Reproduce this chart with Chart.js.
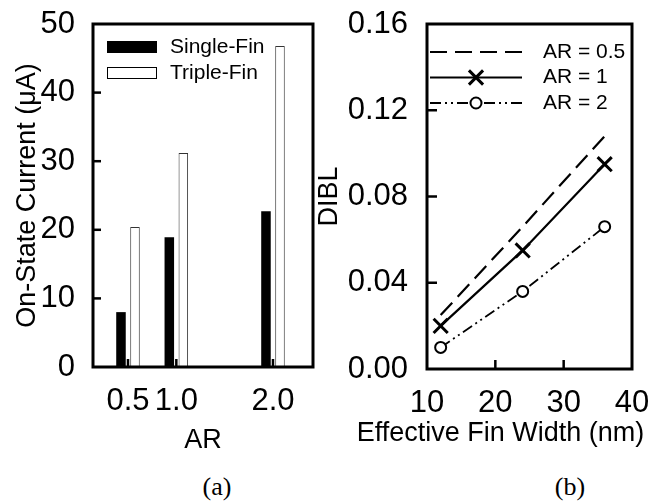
<!DOCTYPE html>
<html>
<head>
<meta charset="utf-8">
<script src="https://cdn.jsdelivr.net/npm/chart.js@4.4.0/dist/chart.umd.min.js"></script>
<style>
  body { margin: 0; background: #fff; width: 652px; height: 501px; position: relative; overflow: hidden; }
  canvas { position: absolute; top: 0; }
  .cap { position: absolute; font: 26px 'Liberation Serif', 'Times New Roman', serif; transform: translate(-50%, -50%); }
</style>
</head>
<body>
<canvas id="barChart" width="326" height="460" style="left:0"></canvas>
<canvas id="lineChart" width="342" height="460" style="left:310px"></canvas>
<div class="cap" style="left:217px;top:487px">(a)</div>
<div class="cap" style="left:570px;top:487px">(b)</div>
<script>
// (a) on-state current vs aspect ratio
const arValues = [0.5, 1.0, 2.0];
const singleFin = [8.0, 18.9, 22.7];
const tripleFin = [20.4, 31.2, 46.8];

// (b) DIBL vs effective fin width
const finWidth = [12, 24, 36];
const diblAR05 = [0.025, 0.066, 0.108];
const diblAR1 = [0.020, 0.055, 0.095];
const diblAR2 = [0.010, 0.036, 0.066];

const FONT = "'Liberation Sans', Arial, sans-serif";
Chart.defaults.font.family = FONT;
Chart.defaults.color = '#000';

function zeroPad(s) {
    s.paddingLeft = 0; s.paddingRight = 0; s.paddingTop = 0; s.paddingBottom = 0;
}

// box around the plot plus short inward tick marks
const framePlugin = {
    id: 'frame',
    afterDraw(chart, args, opts) {
        const { ctx, chartArea: a, scales } = chart;
        ctx.save();
        ctx.strokeStyle = '#000';
        ctx.lineWidth = 2.5;
        scales.x.ticks.forEach(t => {
            const px = scales.x.getPixelForValue(t.value);
            if (px <= a.left + 2 || px >= a.right - 2) return;
            ctx.beginPath(); ctx.moveTo(px, a.bottom); ctx.lineTo(px, a.bottom - opts.xLen); ctx.stroke();
        });
        scales.y.ticks.forEach(t => {
            const py = scales.y.getPixelForValue(t.value);
            if (py <= a.top + 2 || py >= a.bottom - 2) return;
            ctx.beginPath(); ctx.moveTo(a.left, py); ctx.lineTo(a.left + opts.yLen, py); ctx.stroke();
        });
        ctx.lineWidth = 3;
        ctx.strokeRect(a.left, a.top, a.right - a.left, a.bottom - a.top);
        // x title drawn here so it is not squeezed to the axis width
        if (opts.xTitle) {
            ctx.font = opts.xTitleSize + 'px ' + FONT;
            ctx.fillStyle = '#000';
            ctx.textAlign = 'center';
            ctx.textBaseline = 'middle';
            ctx.fillText(opts.xTitle, (a.left + a.right) / 2 + opts.xTitleShift, scales.x.bottom - opts.xTitleSize * 0.6);
        }
        ctx.restore();
    }
};

const barLegend = {
    id: 'barLegend',
    afterDraw(chart) {
        const { ctx, chartArea: a } = chart;
        ctx.save();
        ctx.font = '21px ' + FONT;
        ctx.textBaseline = 'middle';
        chart.data.datasets.forEach((ds, i) => {
            const x = a.left + 14;
            const y = a.top + 23 + i * 26;
            ctx.fillStyle = ds.backgroundColor;
            ctx.fillRect(x, y - 6, 50, 12);
            if (ds.borderWidth) {
                ctx.lineWidth = 1;
                ctx.strokeStyle = '#000';
                ctx.strokeRect(x + 0.5, y - 5.5, 49, 11);
            }
            ctx.fillStyle = '#000';
            ctx.fillText(ds.label, x + 63, y);
        });
        ctx.restore();
    }
};

const lineLegend = {
    id: 'lineLegend',
    afterDraw(chart) {
        const { ctx, chartArea: a } = chart;
        ctx.save();
        ctx.font = '21px ' + FONT;
        ctx.textBaseline = 'middle';
        chart.data.datasets.forEach((ds, i) => {
            const x0 = a.left + 3, x1 = x0 + 92, xm = (x0 + x1) / 2;
            const y = a.top + 28 + i * 25.5;
            ctx.strokeStyle = '#000';
            ctx.lineWidth = ds.borderWidth;
            ctx.setLineDash(ds.borderDash || []);
            ctx.beginPath(); ctx.moveTo(x0, y); ctx.lineTo(x1, y); ctx.stroke();
            ctx.setLineDash([]);
            const r = ds.pointRadius;
            if (r > 0) {
                ctx.lineWidth = ds.pointBorderWidth;
                ctx.beginPath();
                if (ds.pointStyle === 'crossRot') {
                    const d = r * Math.SQRT1_2;
                    ctx.moveTo(xm - d, y - d); ctx.lineTo(xm + d, y + d);
                    ctx.moveTo(xm - d, y + d); ctx.lineTo(xm + d, y - d);
                    ctx.stroke();
                } else {
                    ctx.arc(xm, y, r, 0, Math.PI * 2);
                    ctx.fillStyle = '#fff';
                    ctx.fill();
                    ctx.stroke();
                }
            }
            ctx.fillStyle = '#000';
            ctx.fillText(ds.label, a.left + 116, y);
        });
        ctx.restore();
    }
};

const toPoints = (xs, ys) => xs.map((x, i) => ({ x, y: ys[i] }));

new Chart(document.getElementById('barChart'), {
    type: 'bar',
    data: {
        datasets: [
            {
                label: 'Single-Fin',
                data: toPoints(arValues, singleFin),
                backgroundColor: '#000',
                borderWidth: 0,
                categoryPercentage: 0.58,
                barPercentage: 0.68,
            },
            {
                label: 'Triple-Fin',
                data: toPoints(arValues, tripleFin),
                backgroundColor: '#fff',
                borderColor: '#333',
                borderWidth: 1,
                categoryPercentage: 0.58,
                barPercentage: 0.68,
            },
        ],
    },
    options: {
        responsive: false,
        animation: false,
        layout: { padding: { left: 11.4, top: 24, right: 13, bottom: 3.4 } },
        plugins: { legend: { display: false }, tooltip: { enabled: false }, frame: { xLen: 8, yLen: 8 } },
        scales: {
            x: {
                type: 'linear',
                min: 0.138,
                max: 2.414,
                offset: false,
                afterBuildTicks: s => { s.ticks = arValues.map(v => ({ value: v })); },
                ticks: { callback: v => Number(v).toFixed(1), padding: 16, font: { size: 31 }, autoSkip: false, maxRotation: 0 },
                grid: { display: false, drawTicks: false },
                border: { display: false },
                title: { display: true, text: 'AR', font: { size: 27 }, padding: 0 },
                afterFit: s => { s.height = 89.6; zeroPad(s); },
            },
            y: {
                min: 0,
                max: 50,
                ticks: { stepSize: 10, padding: 18, font: { size: 31 } },
                grid: { display: false, drawTicks: false },
                border: { display: false },
                title: { display: true, text: 'On-State Current (\u03bcA)', font: { size: 27 }, padding: 0 },
                afterFit: s => { s.width = 81.6; zeroPad(s); },
            },
        },
    },
    plugins: [framePlugin, barLegend],
});

new Chart(document.getElementById('lineChart'), {
    type: 'line',
    data: {
        datasets: [
            {
                label: 'AR = 0.5',
                data: toPoints(finWidth, diblAR05),
                borderColor: '#000',
                borderWidth: 2.2,
                borderDash: [17, 8],
                pointRadius: 0,
            },
            {
                label: 'AR = 1',
                data: toPoints(finWidth, diblAR1),
                borderColor: '#000',
                borderWidth: 2.2,
                pointStyle: 'crossRot',
                pointRadius: 10,
                pointBorderWidth: 3,
                pointBorderColor: '#000',
            },
            {
                label: 'AR = 2',
                data: toPoints(finWidth, diblAR2),
                borderColor: '#000',
                borderWidth: 1.8,
                borderDash: [11, 4, 2, 4, 2, 4],
                pointStyle: 'circle',
                pointRadius: 5.5,
                pointBorderWidth: 2,
                pointBorderColor: '#000',
                pointBackgroundColor: '#fff',
            },
        ],
    },
    options: {
        responsive: false,
        animation: false,
        clip: false,
        layout: { padding: { left: 3.4, top: 24, right: 20, bottom: 10.4 } },
        plugins: {
            legend: { display: false },
            tooltip: { enabled: false },
            frame: { xLen: 9, yLen: 10, xTitle: 'Effective Fin Width (nm)', xTitleSize: 27, xTitleShift: -29 },
        },
        scales: {
            x: {
                type: 'linear',
                min: 10,
                max: 40,
                ticks: { stepSize: 10, padding: 16, font: { size: 31 }, maxRotation: 0 },
                grid: { display: false, drawTicks: false },
                border: { display: false },
                title: { display: false },
                afterFit: s => { s.height = 80.6; zeroPad(s); },
            },
            y: {
                min: 0,
                max: 0.16,
                ticks: { stepSize: 0.04, padding: 19, font: { size: 31 }, callback: v => Number(v).toFixed(2) },
                grid: { display: false, drawTicks: false },
                border: { display: false },
                title: { display: true, text: 'DIBL', font: { size: 27 }, padding: 0 },
                afterFit: s => { s.width = 113.6; zeroPad(s); },
            },
        },
    },
    plugins: [framePlugin, lineLegend],
});
</script>
</body>
</html>
